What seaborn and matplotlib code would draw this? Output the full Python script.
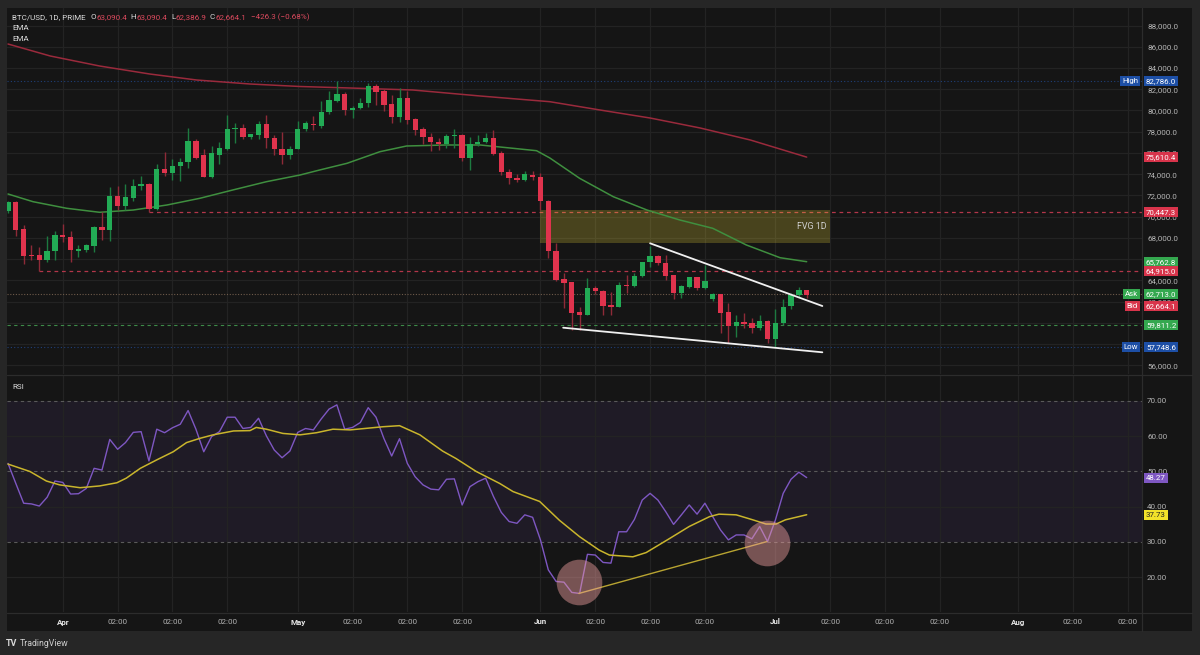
import numpy as np
import pandas as pd
import matplotlib
matplotlib.use("Agg")
import matplotlib.pyplot as plt
import matplotlib.transforms as mtrans
from matplotlib.patches import Rectangle
from matplotlib.lines import Line2D
import seaborn as sns

# ---------------- data ----------------
opens = [70500, 71350, 68840, 66380, 66350, 65940, 66730, 68300, 68110, 66790,
         66880, 67200, 69060, 68770, 71990, 71040, 71770, 72930, 73090, 70730,
         74510, 74130, 74760, 75140, 77120, 75770, 73750, 75830, 76330, 78220,
         78320, 77500, 77660, 78760, 77440, 76400, 75800, 76330, 78290, 78760,
         78540, 79890, 80900, 81530, 80050, 80210, 80680, 82260, 81850, 80590,
         79390, 81150, 79170, 78220, 77500, 77060, 76810, 77560, 77690, 75550,
         76810, 77060, 77370, 76020, 74200, 73600, 73450, 73970, 73750, 71450,
         66730, 64110, 63830, 60990, 60740, 63260, 63010, 61690, 61470, 63580,
         63480, 64430, 65690, 66320, 65620, 64520, 62850, 63360, 64300, 63260,
         62250, 62700, 60990, 59730, 60050, 59950, 59480, 60210, 58470, 59950,
         61620, 62600, 63090.4]
closes = [71350, 68770, 66320, 66330, 65940, 66760, 68300, 68080, 66820, 66980,
          67290, 69060, 68770, 71990, 71040, 71830, 72930, 73090, 70730, 74510,
          74130, 74820, 75170, 77120, 75550, 73750, 75960, 76430, 78290, 78320,
          77500, 77750, 78760, 77370, 76330, 75800, 76400, 78290, 78790, 78600,
          79890, 80970, 81530, 80020, 80270, 80740, 82260, 81780, 80520, 79390,
          81150, 79110, 78160, 77500, 77030, 76810, 77590, 77690, 75480, 76810,
          77060, 77370, 75860, 74200, 73600, 73450, 74000, 73750, 71450, 66730,
          64050, 63800, 60960, 60740, 63260, 63010, 61620, 61470, 63580, 63480,
          64430, 65690, 66320, 65620, 64430, 62850, 63480, 64300, 63260, 63990,
          62700, 60960, 59730, 60050, 59860, 59480, 60210, 58470, 59950, 61530,
          62630, 63100, 62664.1]
highs = [71500, 71450, 69220, 67290, 67140, 68140, 68620, 69340, 68620, 67360,
         67450, 69100, 70410, 72810, 72930, 73120, 73560, 73810, 73180, 74920,
         76080, 75450, 75550, 78380, 77280, 76330, 76650, 77030, 79550, 78790,
         78700, 77820, 79010, 79580, 77660, 77970, 76650, 79010, 79010, 79480,
         80900, 81850, 82786, 81750, 80430, 81150, 82570, 82480, 82070, 81440,
         82100, 81850, 79330, 78480, 77850, 77440, 77750, 78220, 77750, 77530,
         77660, 77850, 78160, 76200, 74500, 74000, 74300, 74290, 74130, 71600,
         67510, 64680, 63830, 61530, 64210, 63500, 63100, 62900, 63890, 64520,
         64680, 65780, 67262, 66410, 66410, 64520, 63580, 64360, 64360, 65470,
         62790, 62700, 61910, 60740, 60900, 60430, 60740, 60270, 61310, 62220,
         62850, 63420, 63090.4]
lows = [70350, 68140, 65530, 65940, 64915, 65780, 65940, 67580, 65690, 66250,
        66630, 66630, 67830, 67730, 70660, 70660, 71510, 72490, 70447.3, 70660,
        73810, 73500, 73340, 74600, 75390, 73750, 73660, 74920, 76270, 76960,
        77280, 77280, 77340, 76490, 75770, 74980, 75450, 76330, 78070, 78130,
        78320, 79640, 80810, 79550, 79260, 80110, 80370, 80520, 79960, 78850,
        78950, 78700, 77660, 76810, 76180, 76270, 76490, 76490, 75230, 74440,
        76650, 76960, 75770, 73900, 73100, 73300, 73350, 73500, 70660, 66100,
        63900, 61370, 59320, 59320, 60740, 62700, 60740, 60740, 61470, 62790,
        63420, 64360, 65310, 65460, 64050, 62220, 62320, 63260, 63100, 63200,
        62060, 59010, 58060, 58690, 59480, 59010, 59320, 58130, 57748.6, 59800,
        61310, 62470, 62386.9]

rsi = [52.3, 46.6, 41.0, 40.8, 40.2, 42.7, 47.3, 46.9, 43.6, 43.7,
       45.2, 50.9, 50.4, 59.1, 56.3, 58.2, 61.1, 61.3, 53.0, 62.0,
       61.0, 62.4, 63.4, 67.3, 62.0, 55.6, 59.9, 61.3, 65.4, 65.4,
       62.2, 62.5, 65.1, 60.1, 56.1, 53.9, 55.8, 61.1, 62.2, 61.8,
       64.9, 67.7, 68.9, 62.0, 62.5, 63.9, 68.1, 65.4, 59.4, 54.4,
       59.3, 52.3, 48.5, 46.2, 45.0, 44.8, 47.8, 47.9, 40.5, 45.7,
       47.1, 48.1, 42.9, 38.4, 35.8, 35.3, 37.7, 37.0, 30.6, 22.1,
       18.8, 18.6, 15.7, 15.4, 26.5, 26.3, 24.2, 24.0, 32.9, 32.9,
       36.4, 41.9, 43.8, 41.9, 38.6, 35.0, 37.7, 40.5, 37.9, 41.0,
       37.2, 33.4, 30.6, 32.0, 32.0, 30.9, 34.4, 30.1, 36.2, 43.8,
       47.8, 49.8, 48.27]

rsi_ma_idx = [0, 2.8, 4.9, 6.6, 9.2, 11.7, 13.9, 15.1, 16.9, 19, 21.1, 22.8, 24.5,
              26.2, 28.8, 30.9, 31.7, 33, 35.1, 37.3, 39.4, 41.5, 43.7, 45.8, 47.9,
              50, 52.6, 55.5, 57.2, 59.8, 62.8, 64.5, 67.9, 70.4, 73, 75.5, 76.8,
              79.8, 81.5, 84.5, 87, 89.6, 90.8, 93, 95.1, 96.8, 98.1, 99.3, 102]
rsi_ma = [52.1, 50.0, 47.3, 46.2, 45.4, 45.9, 46.8, 48.1, 50.9, 53.3, 55.6, 58.2, 59.4,
          60.4, 61.5, 61.6, 62.5, 62.0, 60.8, 60.4, 61.0, 62.0, 61.8, 62.25, 62.7,
          63.0, 60.4, 55.8, 53.7, 50.0, 46.6, 44.3, 41.5, 36.2, 31.5, 27.7, 26.3,
          25.8, 27.0, 31.0, 34.4, 37.2, 37.9, 37.7, 36.3, 35.1, 35.1, 36.3, 37.73]

ema_slow_idx = [0, 5.4, 11.7, 18.1, 24.1, 30.9, 37.3, 43.7, 51.7, 60.3, 69.2, 75.6, 82, 88.4, 94.8, 102]
ema_slow = [86261, 85131, 84189, 83436, 82871, 82495, 82259, 82118, 81930, 81365, 80828,
            80047, 79293, 78352, 77222, 75610.4]
ema_fast_idx = [0, 3.2, 7.5, 11.7, 16, 20.3, 24.5, 28.7, 33, 37.3, 39.8, 43.3, 47.5, 50.9,
                56, 60.3, 64.5, 67.5, 69.2, 73, 77.3, 81.6, 85.8, 90, 94.3, 98.6, 102]
ema_fast = [72137, 71412, 70791, 70414, 70630, 71101, 71732, 72514, 73295, 73926, 74397,
            75028, 76120, 76657, 76751, 76751, 76440, 76214, 75527, 73615, 71883, 70630,
            69689, 68907, 67335, 66139, 65762.8]

price_ticks = list(range(56000, 88001, 2000))
rsi_ticks = [20, 30, 40, 50, 60, 70]
week_idx = [7, 14, 21, 28, 37, 44, 51, 58, 68, 75, 82, 89, 98, 105, 112, 119, 129, 136, 143]
week_labels = ["Apr", "02:00", "02:00", "02:00", "May", "02:00", "02:00", "02:00",
               "Jun", "02:00", "02:00", "02:00", "Jul", "02:00", "02:00", "02:00",
               "Aug", "02:00", "02:00"]

fvg_low, fvg_high = 67510, 70660
fvg_start, fvg_end = 67.9, 105
upper_tl_idx, upper_tl = [82.0, 104.0], [67495, 61591]
lower_tl_idx, lower_tl = [70.9, 104.0], [59548, 57232]
rsi_tl_idx, rsi_tl = [72.9, 96.9], [15.4, 30.1]
circle_idx, circle_rsi = [72.9, 96.9], [18.75, 29.6]

level_high, level_low = 82786.0, 57748.6
level_r1, level_r1_start = 70447.3, 18
level_r2, level_r2_start = 64915.0, 4
level_ask, level_bid = 62713.0, 62664.1
level_g = 59811.2

header_parts = [("BTC/USD, 1D, PRIME", 'w', 5.0), ("O", 'w', 0.3), ("63,090.4", 'r', 3.5),
                ("H", 'w', 0.3), ("63,090.4", 'r', 3.5), ("L", 'w', 0.3), ("62,386.9", 'r', 3.5),
                ("C", 'w', 0.3), ("62,664.1", 'r', 4.5), ("\u2212426.3 (\u22120.68%)", 'r', 0)]

# ---------------- style ----------------
sns.set_theme(style="dark")
plt.rcParams['font.family'] = ['Roboto', 'DejaVu Sans']

BG = '#151515'
FRAME = '#262626'
GRID = '#232323'
SEP = '#2c2c2c'
GREEN = '#22ab55'
RED = '#e0334d'
GREEN_W = '#1d7a40'
RED_W = '#8e2a38'
TICK = '#b5b5b5'

W, H = 1200, 655
fig = plt.figure(figsize=(12, 6.55), dpi=100)
fig.patch.set_facecolor(FRAME)


def fx(px):
    return px / W


def fy(py):
    return 1 - py / H


fig.add_artist(Rectangle((fx(7), fy(631)), (1192 - 7) / W, (631 - 8) / H,
                         transform=fig.transFigure, facecolor=BG, edgecolor='none', zorder=-5))

L, R = 7, 1141.5
ax = fig.add_axes([fx(L), fy(374), (R - L) / W, (374 - 8) / H])
axr = fig.add_axes([fx(L), fy(612), (R - L) / W, (612 - 376) / H])

for a in (ax, axr):
    a.set_facecolor(BG)
    for s in a.spines.values():
        s.set_visible(False)
    a.set_xlim(-0.128, 144.76)
    a.set_xticks(week_idx)
    a.tick_params(axis='x', length=0, labelbottom=False)
    a.xaxis.grid(True, color=GRID, lw=0.9)

ax.set_ylim(55188, 89651)
axr.set_ylim(10.14, 77.09)

ax.yaxis.tick_right()
ax.set_yticks(price_ticks)
ax.set_yticklabels([f"{v:,.1f}" for v in price_ticks])
ax.tick_params(axis='y', length=0, pad=4, labelsize=5.8, labelcolor=TICK)
ax.yaxis.grid(True, color=GRID, lw=0.9)

axr.yaxis.tick_right()
axr.set_yticks(rsi_ticks)
axr.set_yticklabels([f"{v:.2f}" for v in rsi_ticks])
axr.tick_params(axis='y', length=0, pad=4, labelsize=5.8, labelcolor=TICK)
axr.yaxis.grid(False)
for v in (20, 40, 60):
    axr.axhline(v, color=GRID, lw=0.9, zorder=0.5)

# ---------------- main pane ----------------
df = pd.DataFrame({'i': np.arange(len(opens)), 'o': opens, 'h': highs, 'l': lows, 'c': closes})
up = df['c'] >= df['o']

ax.axhline(level_high, color='#1f3f78', lw=0.8, ls=(0, (1, 2)), zorder=1)
ax.axhline(level_low, color='#1f3f78', lw=0.8, ls=(0, (1, 2)), zorder=1)
ax.axhline(level_ask, color='#6e5a4a', lw=0.8, ls=(0, (1, 1.5)), zorder=1)
ax.axhline(level_g, color='#3d8a48', lw=0.8, ls=(0, (3, 3)), zorder=1)
ax.hlines(level_r1, level_r1_start, 150, color='#b3364a', lw=0.9, ls=(0, (3, 3)), zorder=1)
ax.hlines(level_r2, level_r2_start, 150, color='#b3364a', lw=0.9, ls=(0, (3, 3)), zorder=1)

ax.add_patch(Rectangle((fvg_start, fvg_low), fvg_end - fvg_start, fvg_high - fvg_low,
                       facecolor='#ffeb3b', alpha=0.22, edgecolor='none', zorder=1.5))
ax.text(104.6, (fvg_low + fvg_high) / 2, "FVG 1D", ha='right', va='center',
        color='#d0d0d0', fontsize=6.4, zorder=6)

sns.lineplot(x=ema_slow_idx, y=ema_slow, ax=ax, color='#9a2a3c', lw=1.1, zorder=3)
sns.lineplot(x=ema_fast_idx, y=ema_fast, ax=ax, color='#3f8f3f', lw=1.1, zorder=3)

ax.vlines(df['i'], df['l'], df['h'], colors=np.where(up, GREEN_W, RED_W), lw=1.0, zorder=4)
body_lo = np.minimum(df['o'], df['c'])
body_h = np.maximum((df['c'] - df['o']).abs(), 70)
ax.bar(df['i'], body_h, bottom=body_lo, width=0.68, color=np.where(up, GREEN, RED),
       linewidth=0, zorder=5)

ax.plot(upper_tl_idx, upper_tl, color='#f0f0f0', lw=1.3, zorder=6)
ax.plot(lower_tl_idx, lower_tl, color='#f0f0f0', lw=1.3, zorder=6)
ax.set_xlabel('')
ax.set_ylabel('')

# ---------------- RSI pane ----------------
axr.axhspan(30, 70, color='#7e57c2', alpha=0.1, lw=0, zorder=0.4)
for v in (30, 50, 70):
    axr.axhline(v, color='#5a5a5a', lw=0.8, ls=(0, (3, 3)), zorder=1)
sns.lineplot(x=np.arange(len(rsi)), y=rsi, ax=axr, color='#7e57c2', lw=1.0, zorder=3)
sns.lineplot(x=rsi_ma_idx, y=rsi_ma, ax=axr, color='#c9b52c', lw=1.1, zorder=3)
axr.plot(rsi_tl_idx, rsi_tl, color='#b8a431', lw=1.0, zorder=4)
axr.scatter(circle_idx, circle_rsi, s=1080, color='#f0a0a0', alpha=0.45, linewidths=0, zorder=5)
axr.set_xlabel('')
axr.set_ylabel('')


# ---------------- axis tags ----------------
def tag(a, y, text, fc, tc='white', left=None, dy_px=0.0):
    tr = mtrans.blended_transform_factory(a.transAxes, a.transData)
    tr = tr + mtrans.ScaledTranslation(0, -dy_px / 100.0, fig.dpi_scale_trans)
    a.text(1 + 4.5 / (R - L), y, text, transform=tr, ha='left', va='center', fontsize=5.7,
           color=tc, zorder=30, clip_on=False,
           bbox=dict(boxstyle='square,pad=0.25', facecolor=fc, edgecolor='none'))
    if left:
        a.text(1 - 3.5 / (R - L), y, left, transform=tr, ha='right', va='center', fontsize=5.7,
               color=tc, zorder=30, clip_on=False,
               bbox=dict(boxstyle='square,pad=0.25', facecolor=fc, edgecolor='none'))


BLUE_T, RED_T, GREEN_T = '#1d4fa6', '#d8344b', '#34a84f'
tag(ax, level_high, f"{level_high:,.1f}", BLUE_T, left="High")
tag(ax, ema_slow[-1], f"{ema_slow[-1]:,.1f}", RED_T)
tag(ax, level_r1, f"{level_r1:,.1f}", RED_T)
tag(ax, ema_fast[-1], f"{ema_fast[-1]:,.1f}", GREEN_T)
tag(ax, level_r2, f"{level_r2:,.1f}", RED_T)
tag(ax, level_ask, f"{level_ask:,.1f}", GREEN_T, left="Ask")
tag(ax, level_ask, f"{level_bid:,.1f}", RED_T, left="Bid", dy_px=12)
tag(ax, level_g, f"{level_g:,.1f}", GREEN_T)
tag(ax, level_low, f"{level_low:,.1f}", BLUE_T, left="Low")
tag(axr, rsi[-1], f"{rsi[-1]:.2f}", '#7e57c2')
tag(axr, rsi_ma[-1], f"{rsi_ma[-1]:.2f}", '#f2e22a', tc='#222222')

# ---------------- separators ----------------
for (x0, y0, x1, y1) in [(R, 8, R, 631), (7, 375, 1192, 375), (7, 612.5, 1192, 612.5)]:
    fig.add_artist(Line2D([fx(x0), fx(x1)], [fy(y0), fy(y1)], transform=fig.transFigure,
                          color=SEP, lw=0.9, zorder=10))

# ---------------- time axis labels ----------------
trx = mtrans.blended_transform_factory(axr.transData, fig.transFigure)
for i, lab in zip(week_idx, week_labels):
    is_month = lab != "02:00"
    axr.text(i, fy(622), lab, transform=trx, ha='center', va='center',
             fontsize=5.8, color='#e6e6e6' if is_month else '#b0b0b0',
             fontweight='bold' if is_month else 'normal', clip_on=False)

# ---------------- header ----------------
HDR_RED = '#dc4a5e'
HDR_W = '#dcdcdc'
fs = 5.8
renderer = fig.canvas.get_renderer()
xpos = 12.0
for txt, col, gap in header_parts:
    t = fig.text(fx(xpos), fy(16.7), txt, color=HDR_W if col == 'w' else HDR_RED,
                 fontsize=fs, va='center', ha='left')
    bb = t.get_window_extent(renderer=renderer)
    xpos += bb.width + gap
fig.text(fx(12), fy(28.3), "EMA", color=HDR_W, fontsize=fs, va='center')
fig.text(fx(12), fy(39.3), "EMA", color=HDR_W, fontsize=fs, va='center')
fig.text(fx(12), fy(387), "RSI", color=HDR_W, fontsize=fs, va='center')

fig.text(fx(6), fy(643), "TV", color='#d8d8d8', fontsize=6.5, fontweight='bold', va='center')
fig.text(fx(20), fy(643), "TradingView", color='#cfcfcf', fontsize=6.3, va='center')

fig.savefig("out.png", dpi=100, facecolor=FRAME)
